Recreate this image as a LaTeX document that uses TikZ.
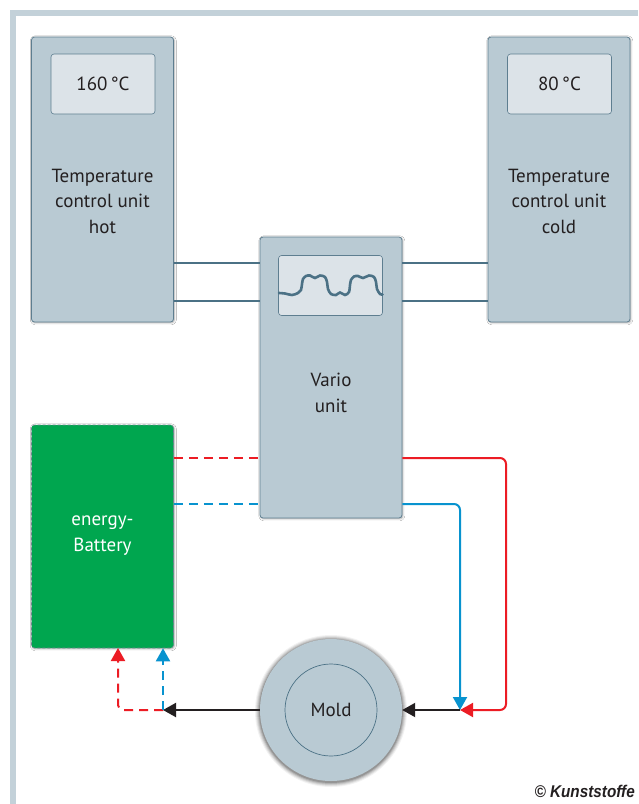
\documentclass[tikz,border=0pt]{standalone}
\usepackage{fontspec}
\setmainfont{PT Sans}
\usetikzlibrary{arrows.meta,shadows.blur,calc}
\definecolor{unitfill}{HTML}{B9CAD3}
\definecolor{unitdraw}{HTML}{5E7E90}
\definecolor{dispfill}{HTML}{DCE3E8}
\definecolor{pipe}{HTML}{4B7185}
\definecolor{framec}{HTML}{C3D1D9}
\definecolor{batt}{HTML}{00A64F}
\definecolor{hotred}{HTML}{EC1C24}
\definecolor{coldblue}{HTML}{0893CF}
\definecolor{txt}{HTML}{231F20}
\definecolor{battdraw}{HTML}{6F8290}
\begin{document}
\begin{tikzpicture}[x=1pt,y=-1pt,
  unitbox/.style={draw=unitdraw, fill=unitfill, line width=0.8pt, rounded corners=3pt,
    minimum width=142pt, minimum height=285pt, inner sep=0pt,
    blur shadow={shadow xshift=0.8pt, shadow yshift=-0.8pt, shadow blur steps=4, shadow opacity=35}},
  dispbox/.style={draw=unitdraw, fill=dispfill, line width=0.6pt, rounded corners=3pt,
    minimum width=104pt, minimum height=60pt, inner sep=0pt,
    font=\fontsize{19}{20}\selectfont, text=txt},
  lbl/.style={align=center, font=\fontsize{19}{25.5}\selectfont, text=txt, inner sep=0pt},
  pipeline/.style={draw=pipe, line width=2pt},
  redline/.style={draw=hotred, line width=2pt},
  blueline/.style={draw=coldblue, line width=2pt},
  dashedline/.style={dash pattern=on 9pt off 6pt},
  tip/.style={-{Triangle[width=14pt,length=13pt]}},
]
\useasboundingbox[fill=white] (0,0) rectangle (638,804);
% frame
\fill[framec] (10,10) rectangle (638,15.5);
\fill[framec] (10,10) rectangle (15.5,804);

% units
\node[unitbox] (hot) at (102.5,179.5) {};
\node[dispbox] (hotdisp) at (103,84) {160\,°C};
\node[lbl] (hotlbl) at (102.5,201) {Temperature\\control unit\\hot};

\node[unitbox] (cold) at (559,179.5) {};
\node[dispbox] (colddisp) at (559.5,84) {80\,°C};
\node[lbl] (coldlbl) at (559,201) {Temperature\\control unit\\cold};

\node[unitbox, minimum height=281pt] (vario) at (331,377.5) {};
\node[dispbox] (variodisp) at (330.5,285.5) {};
\node[lbl] (variolbl) at (331,393) {Vario\\unit};
\draw[pipe, line width=2.6pt, line cap=round] plot[smooth, tension=0.5] coordinates {
 (279,293) (285,293.5) (292,295) (298,293) (301,290) (302,284) (303,279) (306,276)
 (310,275.5) (315,278) (320,275.5) (325,277) (327,282) (328,289) (331,294) (336,295)
 (340,292.5) (345,295) (349,292) (350,285) (351,280) (354,276.5) (358,276) (363,278)
 (369,275.5) (374,277) (376,282) (377,289) (380,294) (382.5,294.5)};

% battery
\node[draw=battdraw, dash pattern=on 3pt off 2pt, line width=0.6pt, fill=batt, rounded corners=3pt,
  minimum width=142pt, minimum height=223pt, inner sep=0pt,
  blur shadow={shadow xshift=0.8pt, shadow yshift=-0.8pt, shadow blur steps=4, shadow opacity=35}]
  (battery) at (102.5,536.5) {};
\node[lbl, text=white] (battlbl) at (102.5,535.5) {energy-\\Battery};

% mold (soft halo, then disc)
\foreach \r/\o in {76/0.05,75/0.07,74/0.09,73/0.12,72/0.16}
  \fill[black, opacity=\o] (331,711) circle[radius=\r];
\node[circle, fill=unitfill, minimum size=142pt, inner sep=0pt] (mold) at (331,710) {};
\node[circle, draw=pipe, line width=0.7pt, minimum size=92pt, inner sep=0pt,
  font=\fontsize{19}{20}\selectfont, text=txt] (moldin) at (331,710) {Mold};

% pipes between units
\draw[pipeline] (hot.east |- 0,263) -- (vario.west |- 0,263);
\draw[pipeline] (hot.east |- 0,301) -- (vario.west |- 0,301);
\draw[pipeline] (vario.east |- 0,263) -- (cold.west |- 0,263);
\draw[pipeline] (vario.east |- 0,301) -- (cold.west |- 0,301);

% battery to vario (dashed)
\draw[redline, dashedline] (battery.east |- 0,457.5) -- (vario.west |- 0,457.5);
\draw[blueline, dashedline] (battery.east |- 0,503.5) -- (vario.west |- 0,503.5);

% vario to mold
\coordinate (j) at (460,710);
\coordinate (k) at (163,710);
\draw[redline, tip, rounded corners=6pt] (vario.east |- 0,458) -- (506,458) -- (506,710) -- (j);
\draw[blueline, tip, rounded corners=6pt] (vario.east |- 0,504) -- (460,504) -- (j);
\draw[draw=txt, line width=2pt, tip] (j) -- (mold.east);
\draw[draw=txt, line width=2pt, tip] (mold.west) -- (k);

% mold back to battery (dashed)
\draw[redline, dashedline, tip, rounded corners=5pt] (k) -- (118,710) -- (118,648);
\draw[blueline, dashedline, tip] (k) -- (k |- battery.south);

% copyright
\node[anchor=base east, inner sep=0pt, text=txt,
  font=\fontspec{Liberation Sans}\bfseries\itshape\fontsize{17}{18}\selectfont] (copy) at (635,797)
  {\scalebox{0.9}[1]{© Kunststoffe}};
\end{tikzpicture}
\end{document}
